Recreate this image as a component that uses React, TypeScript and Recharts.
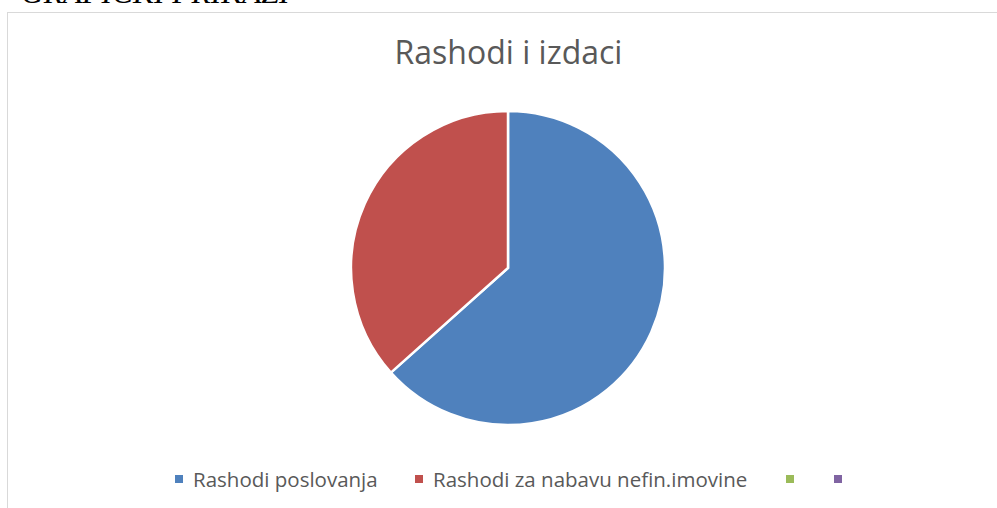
import { PieChart, Pie, Cell, Legend } from "recharts";

const categories = ["Rashodi poslovanja", "Rashodi za nabavu nefin.imovine", "", ""];
const values = [63.4, 36.6, 0, 0];
const colors = ["#4F81BD", "#C0504D", "#9BBB59", "#8064A2"];

const data = categories.map((name, i) => ({ name, value: values[i] }));

// left edge of each legend marker
const legendX = [175, 415, 786, 834];

const renderLegend = () => (
  <div style={{ position: "relative", height: 20, fontFamily: "'Open Sans', sans-serif", fontSize: 20.5, lineHeight: "20px", color: "#595959" }}>
    {data.map((d, i) => (
      <div key={i} style={{ position: "absolute", left: legendX[i], top: 0, height: 20, whiteSpace: "nowrap" }}>
        <span style={{ position: "absolute", left: 0, top: 6, width: 8, height: 8, background: colors[i] }} />
        <span style={{ position: "absolute", left: 18, top: 0 }}>{d.name}</span>
      </div>
    ))}
  </div>
);

export default function App() {
  return (
    <div style={{ position: "absolute", left: 0, top: 0, width: 997, height: 508, overflow: "hidden", background: "#fff" }}>
      <div style={{ position: "absolute", left: 21, top: -25, fontFamily: "'Liberation Serif', serif", fontStyle: "italic", fontSize: 31.5, color: "#000", whiteSpace: "nowrap" }}>
        GRAFIČKI PRIKAZI
      </div>
      <div style={{ position: "absolute", left: 7, top: 12, width: 1000, height: 510, border: "1px solid #d9d9d9", boxSizing: "border-box" }} />
      <div style={{ position: "absolute", left: 0, top: 30, width: 997, textAlign: "center", fontFamily: "'Open Sans', sans-serif", fontSize: 32, color: "#595959", paddingLeft: 20, boxSizing: "border-box" }}>
        Rashodi i izdaci
      </div>
      <div style={{ position: "absolute", left: 0, top: 0 }}>
        <PieChart width={997} height={508} margin={{ top: 0, right: 0, bottom: 0, left: 0 }}>
          <Pie
            data={data}
            dataKey="value"
            nameKey="name"
            cx={508}
            cy={268}
            outerRadius={157}
            startAngle={90}
            endAngle={-270}
            stroke="#fff"
            strokeWidth={2.5}
            isAnimationActive={false}
          >
            {data.map((_, i) => (
              <Cell key={`c-${i}`} fill={colors[i]} />
            ))}
          </Pie>
          <Legend
            content={renderLegend}
            wrapperStyle={{ position: "absolute", left: 0, top: 469, width: 997, height: 20 }}
          />
        </PieChart>
      </div>
    </div>
  );
}
